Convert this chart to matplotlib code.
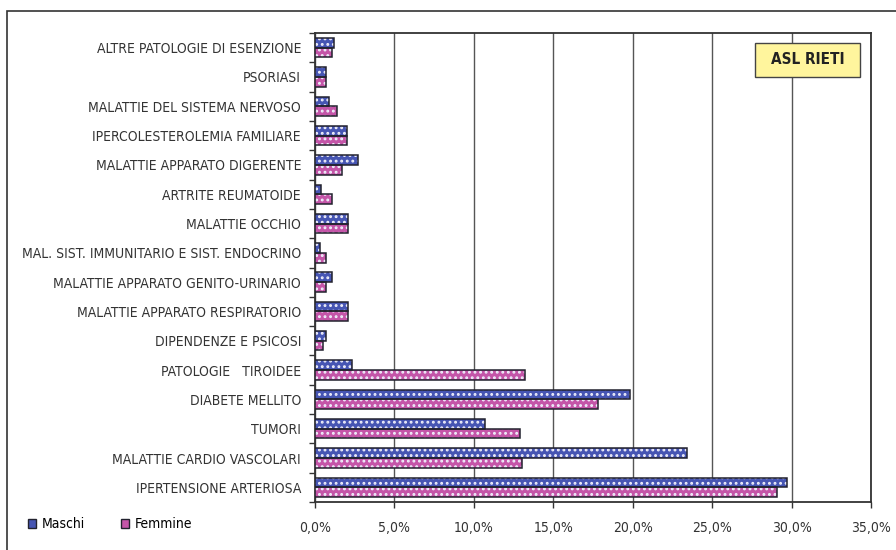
import numpy as np
import matplotlib.pyplot as plt
from matplotlib.patches import Rectangle, Patch
from matplotlib.ticker import FuncFormatter, FixedLocator

plt.rcParams['font.family'] = ['DejaVu Sans']
plt.rcParams['font.stretch'] = 'condensed'
plt.rcParams['hatch.linewidth'] = 1.3

# Quote di esenzione per patologia, ASL Rieti (dal basso verso l'alto)
categorie = [
    'IPERTENSIONE ARTERIOSA',
    'MALATTIE CARDIO VASCOLARI',
    'TUMORI',
    'DIABETE MELLITO',
    'PATOLOGIE   TIROIDEE',
    'DIPENDENZE E PSICOSI',
    'MALATTIE APPARATO RESPIRATORIO',
    'MALATTIE APPARATO GENITO-URINARIO',
    'MAL. SIST. IMMUNITARIO E SIST. ENDOCRINO',
    'MALATTIE OCCHIO',
    'ARTRITE REUMATOIDE',
    'MALATTIE APPARATO DIGERENTE',
    'IPERCOLESTEROLEMIA FAMILIARE',
    'MALATTIE DEL SISTEMA NERVOSO',
    'PSORIASI',
    'ALTRE PATOLOGIE DI ESENZIONE',
]
maschi = [29.7, 23.4, 10.7, 19.8, 2.3, 0.7, 2.1, 1.1, 0.3, 2.1, 0.4, 2.7, 2.0, 0.9, 0.7, 1.2]
femmine = [29.1, 13.0, 12.9, 17.8, 13.2, 0.5, 2.1, 0.7, 0.7, 2.1, 1.1, 1.7, 2.0, 1.4, 0.7, 1.1]

blu = '#4655b3'
rosa = '#c455a8'
bordo = '#22222e'

fig = plt.figure(figsize=(8.96, 5.5), dpi=100)
ax = fig.add_axes([315 / 896, 1 - 502 / 550, 556 / 896, 469 / 550])

# cornice esterna (visibile solo in alto e a sinistra)
fig.patches.append(Rectangle((7 / 896, -0.1), 1.2, 1 - 11 / 550 + 0.1,
                             transform=fig.transFigure, fill=False,
                             edgecolor='#333333', linewidth=1.2, zorder=0))

y = np.arange(len(categorie))
h = 0.33

for vals, off, col in [(maschi, h / 2, blu), (femmine, -h / 2, rosa)]:
    ax.barh(y + off, vals, height=h, color=col, hatch='...',
            edgecolor='#eeeefa', linewidth=0, zorder=3)
    ax.barh(y + off, vals, height=h, fill=False,
            edgecolor=bordo, linewidth=1.1, zorder=4)

ax.set_xlim(0, 35)
ax.set_ylim(-0.5, len(categorie) - 0.5)
ax.set_xticks(np.arange(0, 36, 5))
ax.xaxis.set_major_formatter(FuncFormatter(lambda v, p: f'{v:.1f}%'.replace('.', ',')))
ax.grid(axis='x', color='#555555', linewidth=1.0, zorder=1)

ax.set_yticks(y)
ax.set_yticklabels(categorie)
ax.yaxis.set_minor_locator(FixedLocator(np.arange(-0.5, len(categorie), 1.0)))
ax.tick_params(axis='y', which='major', length=0, pad=10, labelsize=10, labelcolor='#333333')
ax.tick_params(axis='y', which='minor', length=4, width=1, color='#333333')
ax.tick_params(axis='x', length=4, width=1, color='#333333', pad=10,
               labelsize=10, labelcolor='#333333')

for s in ax.spines.values():
    s.set_color('#333333')
    s.set_linewidth(1.3)

# etichetta ASL
ax.add_patch(Rectangle((0.791, 0.906), 0.189, 0.073, transform=ax.transAxes,
                       facecolor='#fff59d', edgecolor='#444444', linewidth=1.0, zorder=5))
ax.text(0.8855, 0.9425, 'ASL RIETI', transform=ax.transAxes, ha='center', va='center',
        fontsize=11, fontweight='bold', color='#222222', zorder=6)

# legenda
handles = [Patch(facecolor=blu, edgecolor=bordo, hatch='.', label='Maschi'),
           Patch(facecolor=rosa, edgecolor=bordo, hatch='.', label='Femmine')]
fig.legend(handles=handles, loc='center left', bbox_to_anchor=(15 / 896, 1 - 524 / 550),
           ncol=2, frameon=False, fontsize=10, handlelength=0.6, handleheight=0.6,
           handletextpad=0.4, columnspacing=2.6)

fig.savefig('out.png', dpi=100)
